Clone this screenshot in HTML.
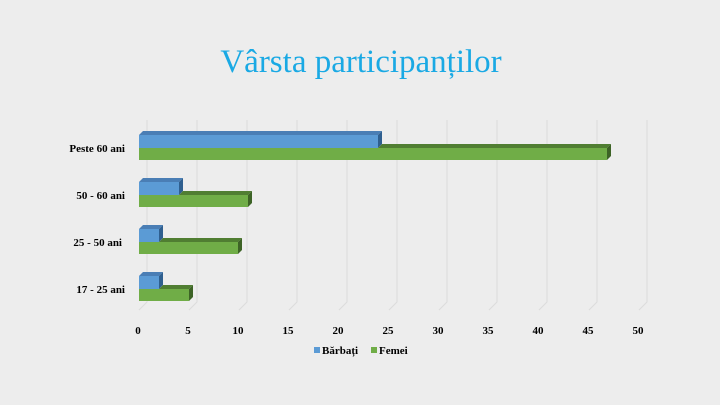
<!DOCTYPE html>
<html><head><meta charset="utf-8"><style>
body{margin:0;background:#ededed;}
svg{display:block}
</style></head><body>
<svg width="720" height="405" xmlns="http://www.w3.org/2000/svg">
<rect width="720" height="405" fill="#ededed"/>
<text x="361" y="72" text-anchor="middle" font-family="Liberation Serif, serif" font-size="33" fill="#1aa9e4">Vârsta participanților</text>
<g stroke="#dcdcdc" stroke-width="1" fill="none">
  <path d="M147,120V302L139,310"/><path d="M197,120V302L189,310"/><path d="M247,120V302L239,310"/>
  <path d="M297,120V302L289,310"/><path d="M347,120V302L339,310"/><path d="M397,120V302L389,310"/>
  <path d="M447,120V302L439,310"/><path d="M497,120V302L489,310"/><path d="M547,120V302L539,310"/>
  <path d="M597,120V302L589,310"/><path d="M647,120V302L639,310"/>
</g>
<g font-family="Liberation Serif, serif" font-weight="bold" font-size="11" fill="#000" text-anchor="middle">
  <text x="138" y="334">0</text><text x="188" y="334">5</text><text x="238" y="334">10</text>
  <text x="288" y="334">15</text><text x="338" y="334">20</text><text x="388" y="334">25</text>
  <text x="438" y="334">30</text><text x="488" y="334">35</text><text x="538" y="334">40</text>
  <text x="588" y="334">45</text><text x="638" y="334">50</text>
</g>
<g font-family="Liberation Serif, serif" font-weight="bold" font-size="11" fill="#000" text-anchor="end">
  <text x="125" y="152">Peste 60 ani</text><text x="125" y="199">50 - 60 ani</text>
  <text x="122" y="246">25 - 50 ani</text><text x="125" y="293">17 - 25 ani</text>
</g>
<g id="bars">
<polygon points="139,135 143,131 382,131 378,135" fill="#4a7eb5"/>
<polygon points="378,135 382,131 382,144 378,148" fill="#2f5f8f"/>
<rect x="139" y="135" width="239" height="13" fill="#5b9bd5"/>
<polygon points="378,148 382,144 611,144 607,148" fill="#507e32"/>
<polygon points="607,148 611,144 611,156 607,160" fill="#3d6326"/>
<rect x="139" y="148" width="468" height="12" fill="#70ad47"/>
<polygon points="139,182 143,178 183,178 179,182" fill="#4a7eb5"/>
<polygon points="179,182 183,178 183,191 179,195" fill="#2f5f8f"/>
<rect x="139" y="182" width="40" height="13" fill="#5b9bd5"/>
<polygon points="179,195 183,191 252,191 248,195" fill="#507e32"/>
<polygon points="248,195 252,191 252,203 248,207" fill="#3d6326"/>
<rect x="139" y="195" width="109" height="12" fill="#70ad47"/>
<polygon points="139,229 143,225 163,225 159,229" fill="#4a7eb5"/>
<polygon points="159,229 163,225 163,238 159,242" fill="#2f5f8f"/>
<rect x="139" y="229" width="20" height="13" fill="#5b9bd5"/>
<polygon points="159,242 163,238 242,238 238,242" fill="#507e32"/>
<polygon points="238,242 242,238 242,250 238,254" fill="#3d6326"/>
<rect x="139" y="242" width="99" height="12" fill="#70ad47"/>
<polygon points="139,276 143,272 163,272 159,276" fill="#4a7eb5"/>
<polygon points="159,276 163,272 163,285 159,289" fill="#2f5f8f"/>
<rect x="139" y="276" width="20" height="13" fill="#5b9bd5"/>
<polygon points="159,289 163,285 193,285 189,289" fill="#507e32"/>
<polygon points="189,289 193,285 193,297 189,301" fill="#3d6326"/>
<rect x="139" y="289" width="50" height="12" fill="#70ad47"/>
</g>
<rect x="314" y="347" width="6" height="6" fill="#5b9bd5"/>
<text x="322" y="354" font-family="Liberation Serif, serif" font-weight="bold" font-size="11">Bărbați</text>
<rect x="371" y="347" width="6" height="6" fill="#70ad47"/>
<text x="379" y="354" font-family="Liberation Serif, serif" font-weight="bold" font-size="11">Femei</text>
</svg>
</body></html>
